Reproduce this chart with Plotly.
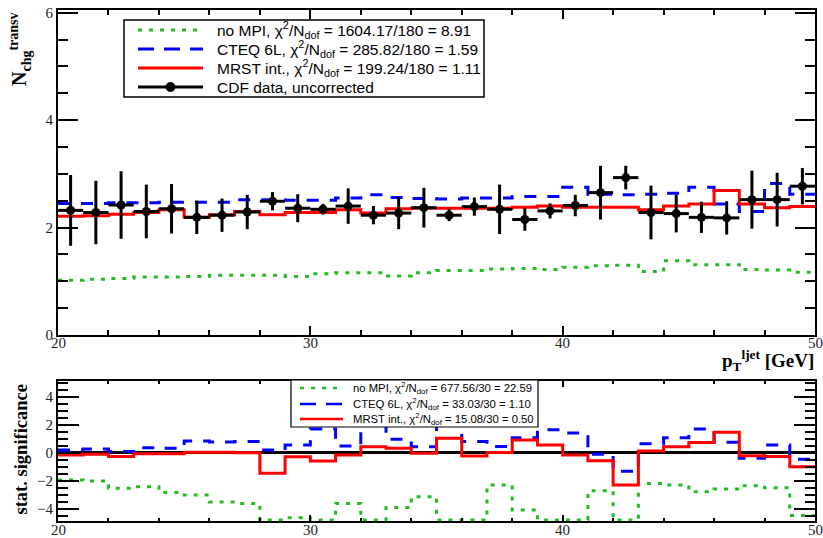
import plotly.graph_objects as go

# ---------------------------------------------------------------------------
# Binning: 30 bins of 1 GeV in leading-jet pT
# ---------------------------------------------------------------------------
bin_edges = list(range(20, 51))
bin_centers = [e + 0.5 for e in range(20, 50)]
x_tick_values = [20, 30, 40, 50]

# CDF data (uncorrected), charged multiplicity in the transverse region
cdf_data = [2.32, 2.28, 2.42, 2.30, 2.35, 2.19, 2.23, 2.29, 2.49, 2.36,
            2.34, 2.40, 2.23, 2.27, 2.37, 2.23, 2.39, 2.34, 2.15, 2.31,
            2.41, 2.65, 2.93, 2.28, 2.26, 2.19, 2.18, 2.52, 2.52, 2.77]
cdf_err = [0.66, 0.59, 0.63, 0.50, 0.46, 0.31, 0.31, 0.32, 0.17, 0.26,
           0.10, 0.33, 0.17, 0.30, 0.37, 0.11, 0.17, 0.46, 0.21, 0.14,
           0.20, 0.50, 0.22, 0.50, 0.35, 0.29, 0.31, 0.54, 0.50, 0.34]

# Monte Carlo predictions
mc_nompi = [1.02, 1.04, 1.05, 1.08, 1.08, 1.09, 1.11, 1.11, 1.11, 1.09,
            1.14, 1.16, 1.16, 1.10, 1.16, 1.20, 1.20, 1.23, 1.24, 1.22,
            1.26, 1.29, 1.30, 1.18, 1.38, 1.31, 1.31, 1.22, 1.21, 1.17]
mc_cteq = [2.45, 2.45, 2.46, 2.46, 2.47, 2.47, 2.47, 2.52, 2.52, 2.51,
           2.51, 2.55, 2.61, 2.56, 2.54, 2.53, 2.55, 2.55, 2.58, 2.58,
           2.75, 2.62, 2.61, 2.62, 2.64, 2.75, 2.44, 2.30, 2.82, 2.62]
mc_mrst = [2.21, 2.22, 2.25, 2.28, 2.33, 2.19, 2.24, 2.30, 2.24, 2.28,
           2.28, 2.33, 2.27, 2.35, 2.36, 2.36, 2.36, 2.36, 2.38, 2.40,
           2.38, 2.38, 2.38, 2.33, 2.40, 2.44, 2.69, 2.44, 2.37, 2.39]

# Statistical significance per bin (values below the frame sit at its edge)
sig_nompi = [-1.93, -2.00, -2.52, -2.40, -2.81, -3.00, -3.50, -3.60, -4.77, -4.62,
             -4.77, -3.60, -4.77, -3.88, -3.12, -4.77, -4.77, -2.29, -4.07, -4.77,
             -4.77, -2.69, -4.77, -2.17, -2.29, -2.76, -2.57, -2.33, -2.48, -4.45]
sig_cteq = [0.21, 0.29, 0.10, 0.38, 0.33, 0.86, 0.78, 0.81, 0.21, 0.57,
            1.70, 0.50, 2.20, 0.98, 0.45, 2.20, 0.82, 0.46, 1.08, 1.65,
            1.42, -0.10, -1.30, 0.66, 1.08, 1.71, 0.76, -0.38, 0.57, -0.44]
sig_mrst = [-0.14, -0.10, -0.26, -0.05, -0.05, 0.05, 0.05, 0.02, -1.45, -0.27,
            -0.57, -0.14, 0.45, 0.33, -0.02, 1.05, -0.21, 0.03, 0.93, 0.57,
            -0.14, -0.55, -2.29, 0.14, 0.45, 0.74, 1.48, -0.19, -0.26, -0.98]

legend_top = [
    "no MPI, χ<sup>2</sup>/N<sub>dof</sub> = 1604.17/180 = 8.91",
    "CTEQ 6L, χ<sup>2</sup>/N<sub>dof</sub> = 285.82/180 = 1.59",
    "MRST int., χ<sup>2</sup>/N<sub>dof</sub> = 199.24/180 = 1.11",
    "CDF data, uncorrected",
]
legend_bottom = [
    "no MPI, χ<sup>2</sup>/N<sub>dof</sub> = 677.56/30 = 22.59",
    "CTEQ 6L, χ<sup>2</sup>/N<sub>dof</sub> = 33.03/30 = 1.10",
    "MRST int., χ<sup>2</sup>/N<sub>dof</sub> = 15.08/30 = 0.50",
]

# ---------------------------------------------------------------------------
# Styles and page geometry (pixels)
# ---------------------------------------------------------------------------
GREEN = "#22bb22"
BLUE = "#0000ff"
RED = "#ff0000"
SERIF = "Liberation Serif"
SANS = "Liberation Sans"

W, H = 823, 538
ML, MR, MT, MB = 58, 8, 10, 17
PW, PH = W - ML - MR, H - MT - MB
TOP_BOTTOM_PX = 335     # lower edge of the upper frame
BOT_TOP_PX = 381        # upper edge of the lower frame


def px(x):
    return (x - ML) / PW


def py(y):
    return (H - MB - y) / PH


def step(values):
    return bin_edges, list(values) + [values[-1]]


fig = go.Figure()

styles = [
    (mc_nompi, sig_nompi, GREEN, "4px,7px"),
    (mc_cteq, sig_cteq, BLUE, "12px,11px"),
    (mc_mrst, sig_mrst, RED, "solid"),
]
for mc, sig, col, dash in styles:
    xs, ys = step(mc)
    fig.add_trace(go.Scatter(x=xs, y=ys, mode="lines", line_shape="hv",
                             line=dict(color=col, width=3, dash=dash),
                             xaxis="x", yaxis="y", showlegend=False))
    xs, ys = step(sig)
    fig.add_trace(go.Scatter(x=xs, y=ys, mode="lines", line_shape="hv",
                             line=dict(color=col, width=3, dash=dash),
                             xaxis="x2", yaxis="y2", showlegend=False))

fig.add_trace(go.Scatter(
    x=bin_centers, y=cdf_data, mode="markers",
    marker=dict(color="black", size=9),
    error_y=dict(type="data", array=cdf_err, color="black", thickness=3, width=0),
    error_x=dict(type="constant", value=0.5, color="black", thickness=3, width=0),
    xaxis="x", yaxis="y", showlegend=False))

axis_common = dict(showline=True, linecolor="black", linewidth=2, mirror="allticks",
                   ticks="inside", tickcolor="black", tickwidth=1.5,
                   showgrid=False, automargin=False,
                   tickfont=dict(family=SERIF, size=15, color="#222"))

fig.update_layout(
    width=W, height=H,
    margin=dict(l=ML, r=MR, t=MT, b=MB),
    paper_bgcolor="white", plot_bgcolor="white",
    xaxis=dict(domain=[0, 1], anchor="y", range=[20, 50], tickvals=x_tick_values,
               ticklen=9, zeroline=False, showticklabels=False,
               minor=dict(dtick=2, tick0=20, ticklen=5, ticks="inside",
                          tickcolor="black", tickwidth=1.5),
               **axis_common),
    yaxis=dict(domain=[py(TOP_BOTTOM_PX), 1], anchor="x", range=[0, 6.05],
               tickvals=[0, 2, 4, 6], ticklen=20, zeroline=False,
               minor=dict(dtick=0.5, tick0=0, ticklen=10, ticks="inside",
                          tickcolor="black", tickwidth=1.5),
               **axis_common),
    xaxis2=dict(domain=[0, 1], anchor="y2", range=[20, 50], tickvals=x_tick_values,
                ticklen=6, zeroline=False, showticklabels=False,
                minor=dict(dtick=2, tick0=20, ticklen=3, ticks="inside",
                           tickcolor="black", tickwidth=1.5),
                **axis_common),
    yaxis2=dict(domain=[0, py(BOT_TOP_PX)], anchor="x2", range=[-4.85, 5.13],
                tickvals=[-4, -2, 0, 2, 4], ticklen=21,
                minor=dict(dtick=0.5, tick0=0, ticklen=10, ticks="inside",
                           tickcolor="black", tickwidth=1.5),
                zeroline=True, zerolinecolor="black", zerolinewidth=2.5,
                **axis_common),
)

shapes = []
annotations = []

# x tick labels, set close under each frame
for xref, ypix in (("x", 343), ("x2", 530)):
    for v in x_tick_values:
        annotations.append(dict(xref=xref, yref="paper", x=v, y=py(ypix),
                                xanchor="center", yanchor="middle", showarrow=False,
                                text=str(v), font=dict(family=SERIF, size=15, color="#222")))


def legend_box(x0, x1, y0, y1, width):
    shapes.append(dict(type="rect", xref="paper", yref="paper",
                       x0=px(x0), x1=px(x1), y0=py(y1), y1=py(y0),
                       line=dict(color="black", width=width), fillcolor="white",
                       layer="above"))


def legend_line(x0, x1, y, col, dash, width=3):
    shapes.append(dict(type="line", xref="paper", yref="paper",
                       x0=px(x0), x1=px(x1), y0=py(y), y1=py(y),
                       line=dict(color=col, width=width, dash=dash), layer="above"))


def legend_text(x, y, text, size):
    annotations.append(dict(xref="paper", yref="paper", x=px(x), y=py(y),
                            xanchor="left", yanchor="middle", showarrow=False,
                            text=text, font=dict(family=SANS, size=size, color="black")))


# Upper legend
legend_box(124, 484, 20, 97, 1.5)
rows_top = [30, 49, 68, 87]
entry_styles = [(GREEN, "4px,7px"), (BLUE, "16px,10px"), (RED, "solid"), ("black", "solid")]
for (col, dash), yy, txt in zip(entry_styles, rows_top, legend_top):
    legend_line(138, 203, yy, col, dash)
    legend_text(215, yy, txt, 15.5)
shapes.append(dict(type="circle", xref="paper", yref="paper",
                   x0=px(166), x1=px(175), y0=py(91.5), y1=py(82.5),
                   fillcolor="black", line=dict(color="black", width=1), layer="above"))

# Lower legend
legend_box(291, 538, 380, 427, 1.2)
rows_bottom = [388, 404, 419]
for (col, dash), yy, txt in zip(entry_styles[:3], rows_bottom, legend_bottom):
    legend_line(300, 343, yy, col, dash, width=2.5)
    legend_text(351, yy, txt, 11.3)

# Axis titles (aligned to the far end of their axes)
annotations.append(dict(xref="paper", yref="paper", x=px(20), y=py(10),
                        xanchor="center", yanchor="top", showarrow=False, textangle=-90,
                        text="<b>N<sub>chg</sub><sup>transv</sup></b>",
                        font=dict(family=SERIF, size=20, color="black")))
annotations.append(dict(xref="paper", yref="paper", x=px(816), y=py(360),
                        xanchor="right", yanchor="middle", showarrow=False,
                        text="<b>p<sub>T</sub><sup>ljet</sup> [GeV]</b>",
                        font=dict(family=SERIF, size=19, color="black")))
annotations.append(dict(xref="paper", yref="paper", x=px(20), y=py(382),
                        xanchor="center", yanchor="top", showarrow=False, textangle=-90,
                        text="<b>stat. significance</b>",
                        font=dict(family=SERIF, size=18.5, color="black")))

fig.update_layout(shapes=shapes, annotations=annotations)

fig.write_html("out.html")
